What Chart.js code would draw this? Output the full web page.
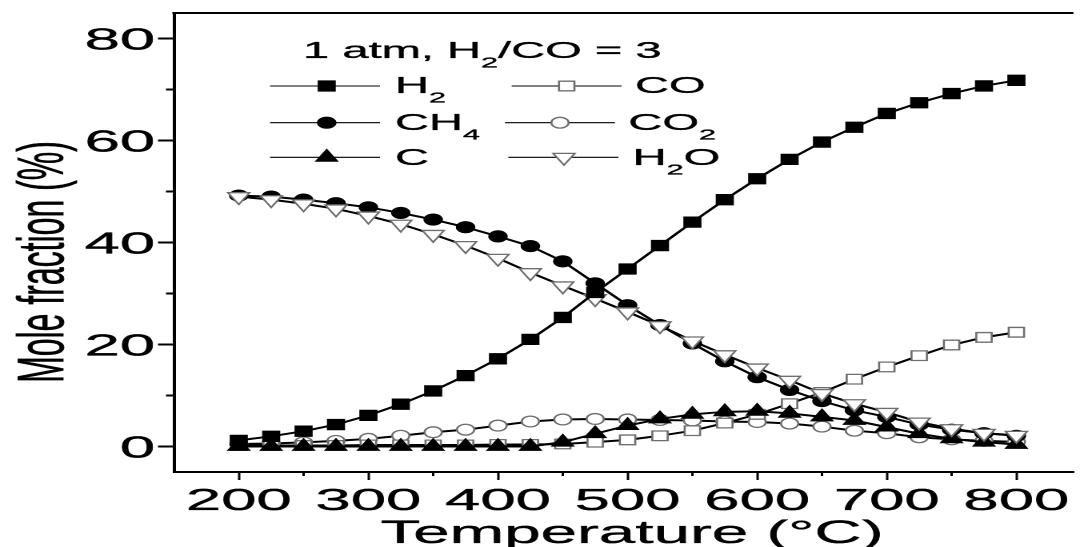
<!DOCTYPE html>
<html>
<head>
<meta charset="utf-8">
<script src="https://cdn.jsdelivr.net/npm/chart.js@4.4.1/dist/chart.umd.min.js"></script>
<style>
    html, body { margin: 0; padding: 0; background: #fff; overflow: hidden; }
    /* the original figure is stretched sideways, so draw narrow and widen it */
    #wrap { width: 680px; height: 547px; transform: scaleX(1.6); transform-origin: 0 0; }
</style>
</head>
<body>
<div id="wrap"><canvas id="chart" width="680" height="547"></canvas></div>
<script>
// Equilibrium composition, 1 atm, H2/CO = 3
const temps = [200, 225, 250, 275, 300, 325, 350, 375, 400, 425, 450, 475, 500,
               525, 550, 575, 600, 625, 650, 675, 700, 725, 750, 775, 800];
const h2  = [1.2, 2.0, 3.0, 4.3, 6.1, 8.3, 10.9, 13.9, 17.2, 21.0, 25.3, 30.2, 34.8,
             39.4, 44.0, 48.4, 52.5, 56.3, 59.7, 62.6, 65.3, 67.4, 69.2, 70.7, 71.8];
const ch4 = [49.2, 49.0, 48.4, 47.7, 46.9, 45.8, 44.5, 43.0, 41.2, 39.3, 36.3, 32.0, 27.7,
             23.8, 20.2, 16.7, 13.6, 11.1, 8.9, 7.1, 5.8, 4.3, 3.3, 2.6, 2.1];
const carbon = [0, 0, 0, 0, 0, 0, 0, 0, 0, 0, 0.85, 2.5, 4.1,
                5.4, 6.3, 6.8, 6.9, 6.5, 5.8, 5.1, 3.8, 2.5, 1.5, 0.85, 0.4];
const co  = [0.2, 0.2, 0.2, 0.2, 0.3, 0.3, 0.3, 0.3, 0.4, 0.4, 0.5, 0.85, 1.3,
             2.1, 3.1, 4.6, 6.3, 8.4, 10.6, 13.2, 15.6, 17.8, 19.9, 21.4, 22.4];
const co2 = [0.5, 0.6, 0.8, 1.1, 1.5, 2.1, 2.8, 3.3, 4.1, 4.9, 5.3, 5.4, 5.3,
             5.2, 5.1, 4.9, 4.8, 4.5, 3.9, 3.1, 2.6, 1.8, 1.4, 1.1, 0.9];
const h2o = [49.0, 48.4, 47.6, 46.6, 45.2, 43.6, 41.6, 39.4, 36.9, 34.1, 31.5, 29.0, 26.4,
             23.7, 20.7, 18.0, 15.4, 13.0, 10.4, 8.4, 6.7, 4.8, 3.5, 2.6, 2.2];

// Axis ticks
const xMajor = [200, 300, 400, 500, 600, 700, 800];
const xMinor = [250, 350, 450, 550, 650, 750];
const yMajor = [0, 20, 40, 60, 80];
const yMinor = [10, 30, 50, 70];

const TEXT_K = 1.28;   // text is widened a bit more than the rest
const FONT = "'Liberation Sans', Arial, Helvetica, sans-serif";
const INK = '#000';
const OPEN = '#6e6e6e';

const styles = {
    h2:     { pointStyle: 'rect',     radius: 7.3, rotation: 0,   fill: INK,    stroke: INK,  bw: 1 },
    ch4:    { pointStyle: 'circle',   radius: 5.6, rotation: 0,   fill: INK,    stroke: INK,  bw: 1 },
    carbon: { pointStyle: 'triangle', radius: 7.8, rotation: 0,   fill: INK,    stroke: INK,  bw: 1 },
    co:     { pointStyle: 'rect',     radius: 6.8, rotation: 0,   fill: '#fff', stroke: OPEN, bw: 1.3 },
    co2:    { pointStyle: 'circle',   radius: 5.4, rotation: 0,   fill: '#fff', stroke: OPEN, bw: 1.3 },
    h2o:    { pointStyle: 'triangle', radius: 7.8, rotation: 180, fill: '#fff', stroke: OPEN, bw: 1.3 }
};

function font(size) {
    return size + 'px ' + FONT;
}

// fill plus a thin stroke so the glyphs get the weight of the original
function inkText(ctx, t, x, y) {
    ctx.fillText(t, x, y);
    ctx.strokeText(t, x, y);
}

// draws text made of normal and subscript parts, widened by TEXT_K
function drawText(ctx, parts, x, y, size, align) {
    ctx.save();
    ctx.translate(x, y);
    ctx.scale(TEXT_K, 1);
    ctx.fillStyle = INK;
    ctx.strokeStyle = INK;
    ctx.lineWidth = 0.35;
    ctx.lineJoin = 'round';
    ctx.textAlign = 'left';
    ctx.textBaseline = 'alphabetic';
    const widths = parts.map(([t, sub]) => {
        ctx.font = font(sub ? size * 0.65 : size);
        return ctx.measureText(t).width;
    });
    const total = widths.reduce((a, b) => a + b, 0);
    let cx = align === 'center' ? -total / 2 : (align === 'right' ? -total : 0);
    parts.forEach(([t, sub], i) => {
        ctx.font = font(sub ? size * 0.65 : size);
        inkText(ctx, t, cx, sub ? size * 0.42 : 0);
        cx += widths[i];
    });
    ctx.restore();
}

function drawMarker(ctx, st, x, y) {
    ctx.save();
    ctx.fillStyle = st.fill;
    ctx.strokeStyle = st.stroke;
    ctx.lineWidth = st.bw;
    Chart.helpers.drawPoint(ctx, {
        pointStyle: st.pointStyle, radius: st.radius, rotation: st.rotation, borderWidth: st.bw
    }, x, y);
    ctx.restore();
}

const legendItems = [
    { parts: [['H', 0], ['2', 1]],           st: styles.h2,     x1: 168.8, x2: 237.5, mx: 204.2, y: 86,    tx: 246.9, ty: 93 },
    { parts: [['CH', 0], ['4', 1]],          st: styles.ch4,    x1: 168.8, x2: 237.5, mx: 204.2, y: 122.7, tx: 246.9, ty: 130 },
    { parts: [['C', 0]],                     st: styles.carbon, x1: 168.8, x2: 237.5, mx: 204.2, y: 157.3, tx: 246.9, ty: 165 },
    { parts: [['CO', 0]],                    st: styles.co,     x1: 319.8, x2: 388.5, mx: 354.2, y: 86,    tx: 396.9, ty: 93 },
    { parts: [['CO', 0], ['2', 1]],          st: styles.co2,    x1: 315.6, x2: 384.4, mx: 350,   y: 122.7, tx: 392.7, ty: 130 },
    { parts: [['H', 0], ['2', 1], ['O', 0]], st: styles.h2o,    x1: 317.7, x2: 386.5, mx: 352.5, y: 157.3, tx: 395.4, ty: 165 }
];

const framePlugin = {
    id: 'frame',
    afterDraw(chart) {
        const ctx = chart.ctx;
        const area = chart.chartArea;
        const xs = chart.scales.x;
        const ys = chart.scales.y;

        // top frame line and minor ticks
        ctx.save();
        ctx.strokeStyle = INK;
        ctx.lineWidth = 2;
        ctx.beginPath();
        ctx.moveTo(area.left - 1, area.top);
        ctx.lineTo(area.right, area.top);
        ctx.stroke();
        ctx.lineWidth = 1.5;
        ctx.beginPath();
        xMinor.forEach(v => {
            const px = xs.getPixelForValue(v);
            ctx.moveTo(px, area.bottom);
            ctx.lineTo(px, area.bottom + 4);
        });
        ctx.stroke();
        ctx.lineWidth = 2;
        ctx.beginPath();
        yMinor.forEach(v => {
            const py = ys.getPixelForValue(v);
            ctx.moveTo(area.left, py);
            ctx.lineTo(area.left - 5, py);
        });
        ctx.stroke();
        ctx.restore();

        // tick labels
        xMajor.forEach(v => drawText(ctx, [[String(v), 0]], xs.getPixelForValue(v), 510, 31, 'center'));
        yMajor.forEach(v => drawText(ctx, [[String(v), 0]], 97, ys.getPixelForValue(v) + 11, 31, 'right'));

        // axis titles
        drawText(ctx, [['Temperature (°C)', 0]], 395, 543, 32, 'center');
        ctx.save();
        ctx.translate(39.4, 262);
        ctx.rotate(-Math.PI / 2);
        ctx.scale(1, TEXT_K);
        ctx.fillStyle = INK;
        ctx.strokeStyle = INK;
        ctx.lineWidth = 0.35;
        ctx.font = font(32);
        ctx.textAlign = 'center';
        ctx.textBaseline = 'alphabetic';
        inkText(ctx, 'Mole fraction (%)', 0, 0);
        ctx.restore();

        // legend
        drawText(ctx, [['1 atm, H', 0], ['2', 1], ['/CO = 3', 0]], 189.4, 58, 23, 'left');
        legendItems.forEach(item => {
            ctx.save();
            ctx.strokeStyle = INK;
            ctx.lineWidth = 1.1;
            ctx.beginPath();
            ctx.moveTo(item.x1, item.y);
            ctx.lineTo(item.x2, item.y);
            ctx.stroke();
            ctx.restore();
            drawMarker(ctx, item.st, item.mx, item.y);
            drawText(ctx, item.parts, item.tx, item.ty, 23, 'left');
        });
    }
};

function makeSet(label, values, st) {
    return {
        label: label,
        data: temps.map((t, i) => ({ x: t, y: values[i] })),
        borderColor: INK,
        borderWidth: 2,
        pointStyle: st.pointStyle,
        pointRadius: st.radius,
        pointHoverRadius: st.radius,
        pointRotation: st.rotation,
        pointBackgroundColor: st.fill,
        pointBorderColor: st.stroke,
        pointBorderWidth: st.bw,
        tension: 0,
        fill: false
    };
}

// first dataset is drawn on top
const datasets = [
    makeSet('H2', h2, styles.h2),
    makeSet('H2O', h2o, styles.h2o),
    makeSet('C', carbon, styles.carbon),
    makeSet('CH4', ch4, styles.ch4),
    makeSet('CO', co, styles.co),
    makeSet('CO2', co2, styles.co2)
];

new Chart(document.getElementById('chart'), {
    type: 'line',
    data: { datasets: datasets },
    options: {
        responsive: false,
        animation: false,
        devicePixelRatio: 2,
        layout: { padding: { top: 13, right: 0, left: 0, bottom: 0 } },
        plugins: {
            legend: { display: false },
            tooltip: { enabled: false }
        },
        scales: {
            x: {
                type: 'linear',
                min: 150,
                max: 844,
                afterBuildTicks: s => { s.ticks = xMajor.map(v => ({ value: v })); },
                afterFit: s => { s.height = 75; },
                ticks: { display: false },
                grid: { display: true, drawOnChartArea: false, drawTicks: true, tickLength: 8, tickWidth: 1.5, tickColor: INK },
                border: { display: true, color: INK, width: 2 }
            },
            y: {
                type: 'linear',
                min: -5,
                max: 85,
                afterBuildTicks: s => { s.ticks = yMajor.map(v => ({ value: v })); },
                afterFit: s => { s.width = 108.75; },
                ticks: { display: false },
                grid: { display: true, drawOnChartArea: false, drawTicks: true, tickLength: 10, tickWidth: 2, tickColor: INK },
                border: { display: true, color: INK, width: 2 }
            }
        }
    },
    plugins: [framePlugin]
});
</script>
</body>
</html>
